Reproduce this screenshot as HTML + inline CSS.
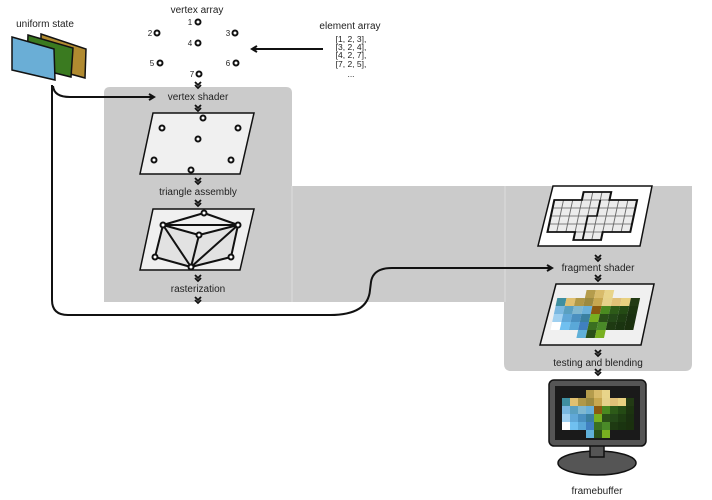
<!DOCTYPE html>
<html><head><meta charset="utf-8"><style>
html,body{margin:0;padding:0;background:#fff;}
svg{display:block;font-family:"Liberation Sans",sans-serif;}
text{font-size:10px;fill:#222;text-anchor:middle;}
</style></head><body>
<svg width="712" height="500" viewBox="0 0 712 500" xmlns="http://www.w3.org/2000/svg">
<defs>
<pattern id="gp" width="8" height="8" patternUnits="userSpaceOnUse">
<rect width="8" height="8" fill="#ececec" stroke="#666" stroke-width="0.8"/>
</pattern>
<marker id="ar" markerWidth="8" markerHeight="8" refX="6" refY="4" orient="auto" markerUnits="userSpaceOnUse">
<path d="M1,1 L6,4 L1,7" fill="none" stroke="#111" stroke-width="2"/>
</marker>
<g id="dn"><path d="M-3,-3 L0,0 L3,-3 M-3,0 L0,3 L3,0" fill="none" stroke="#111" stroke-width="1.8"/></g>
<g id="cg">
<rect x="24" y="0" width="8" height="8" fill="#b59c4c"/><rect x="32" y="0" width="8" height="8" fill="#d8bb6a"/><rect x="40" y="0" width="8" height="8" fill="#e8d48a"/>
<rect x="0" y="8" width="8" height="8" fill="#3f8fa0"/><rect x="8" y="8" width="8" height="8" fill="#e0c070"/><rect x="16" y="8" width="8" height="8" fill="#b09848"/><rect x="24" y="8" width="8" height="8" fill="#9c8a40"/><rect x="32" y="8" width="8" height="8" fill="#c8a850"/><rect x="40" y="8" width="8" height="8" fill="#e6d28a"/><rect x="48" y="8" width="8" height="8" fill="#e0c078"/><rect x="56" y="8" width="8" height="8" fill="#e8d080"/><rect x="64" y="8" width="8" height="8" fill="#223a14"/>
<rect x="0" y="16" width="8" height="8" fill="#7ab8e0"/><rect x="8" y="16" width="8" height="8" fill="#5aa0c0"/><rect x="16" y="16" width="8" height="8" fill="#80b8d0"/><rect x="24" y="16" width="8" height="8" fill="#6ab0d8"/><rect x="32" y="16" width="8" height="8" fill="#8a5a10"/><rect x="40" y="16" width="8" height="8" fill="#4a8a20"/><rect x="48" y="16" width="8" height="8" fill="#2d5a18"/><rect x="56" y="16" width="8" height="8" fill="#244a14"/><rect x="64" y="16" width="8" height="8" fill="#1c3410"/>
<rect x="0" y="24" width="8" height="8" fill="#a0d0f0"/><rect x="8" y="24" width="8" height="8" fill="#60a8d8"/><rect x="16" y="24" width="8" height="8" fill="#4a90c0"/><rect x="24" y="24" width="8" height="8" fill="#3a80a0"/><rect x="32" y="24" width="8" height="8" fill="#78b020"/><rect x="40" y="24" width="8" height="8" fill="#2a5018"/><rect x="48" y="24" width="8" height="8" fill="#244818"/><rect x="56" y="24" width="8" height="8" fill="#1e3c12"/><rect x="64" y="24" width="8" height="8" fill="#1a3010"/>
<rect x="0" y="32" width="8" height="8" fill="#ffffff"/><rect x="8" y="32" width="8" height="8" fill="#70c0f0"/><rect x="16" y="32" width="8" height="8" fill="#5aa8d8"/><rect x="24" y="32" width="8" height="8" fill="#4080c0"/><rect x="32" y="32" width="8" height="8" fill="#3a7020"/><rect x="40" y="32" width="8" height="8" fill="#4a8a28"/><rect x="48" y="32" width="8" height="8" fill="#1e3a12"/><rect x="56" y="32" width="8" height="8" fill="#1a3410"/><rect x="64" y="32" width="8" height="8" fill="#1a300e"/>
<rect x="24" y="40" width="8" height="8" fill="#60b0d8"/><rect x="32" y="40" width="8" height="8" fill="#2a5018"/><rect x="40" y="40" width="8" height="8" fill="#78b020"/>
</g>
</defs>

<path d="M104,302 L104,93 Q104,87 110,87 L286,87 Q292,87 292,93 L292,302 Z" fill="#cbcbcb"/>
<rect x="292" y="186" width="213" height="116" fill="#cbcbcb"/>
<path d="M504,186 L692,186 L692,364 Q692,371 685,371 L511,371 Q504,371 504,364 Z" fill="#cbcbcb"/>
<line x1="292" y1="186" x2="292" y2="302" stroke="#ddd" stroke-width="1"/>
<line x1="505" y1="186" x2="505" y2="302" stroke="#ddd" stroke-width="1"/>

<text x="45" y="27">uniform state</text>
<polygon points="41,34 86,49 85,78 41,66" fill="#b08a30" stroke="#111" stroke-width="1.5"/>
<polygon points="28,35 73,48 71,77 27,66" fill="#3a7a20" stroke="#111" stroke-width="1.5"/>
<polygon points="12,37 54,49 55,80 12,70" fill="#6aaed6" stroke="#111" stroke-width="1.5"/>

<text x="197" y="13">vertex array</text>
<g fill="#fff" stroke="#111" stroke-width="2">
<circle cx="198" cy="22" r="2.5"/><circle cx="157" cy="33" r="2.5"/><circle cx="235" cy="33" r="2.5"/>
<circle cx="198" cy="43" r="2.5"/><circle cx="160" cy="63" r="2.5"/><circle cx="236" cy="63" r="2.5"/><circle cx="199" cy="74" r="2.5"/>
</g>
<text x="190" y="25" style="font-size:8px">1</text><text x="150" y="36" style="font-size:8px">2</text><text x="228" y="36" style="font-size:8px">3</text>
<text x="190" y="46" style="font-size:8px">4</text><text x="152" y="66" style="font-size:8px">5</text><text x="228" y="66" style="font-size:8px">6</text><text x="192" y="77" style="font-size:8px">7</text>

<text x="350" y="29">element array</text>
<text x="351" y="42" style="font-size:8.5px">[1, 2, 3],</text>
<text x="351" y="50" style="font-size:8.5px">[3, 2, 4],</text>
<text x="351" y="58" style="font-size:8.5px">[4, 2, 7],</text>
<text x="351" y="67" style="font-size:8.5px">[7, 2, 5],</text>
<text x="351" y="77" style="font-size:8.5px">...</text>
<line x1="323" y1="49" x2="252" y2="49" stroke="#111" stroke-width="2" marker-end="url(#ar)"/>

<path d="M52,85 L52,300 Q52,315 68,315 L330,315 Q368,315 370,290 L371,282 Q373,268 392,268 L552,268" fill="none" stroke="#111" stroke-width="2" marker-end="url(#ar)"/>
<path d="M53,86 Q54,97 70,97 L154,97" fill="none" stroke="#111" stroke-width="2" marker-end="url(#ar)"/>

<use href="#dn" x="198" y="85"/>
<text x="198" y="100">vertex shader</text>
<use href="#dn" x="198" y="108"/>
<polygon points="153,113 254,113 240,174 140,174" fill="#f0f0f0" stroke="#111" stroke-width="1.5"/>
<g fill="#fff" stroke="#111" stroke-width="2">
<circle cx="203" cy="118" r="2.5"/><circle cx="162" cy="128" r="2.5"/><circle cx="238" cy="128" r="2.5"/><circle cx="198" cy="139" r="2.5"/><circle cx="154" cy="160" r="2.5"/><circle cx="231" cy="160" r="2.5"/><circle cx="191" cy="170" r="2.5"/>
</g>
<use href="#dn" x="198" y="181"/>
<text x="198" y="195">triangle assembly</text>
<use href="#dn" x="198" y="203"/>
<polygon points="153,209 254,209 240,270 140,270" fill="#f0f0f0" stroke="#111" stroke-width="1.5"/>
<polygon points="163,225 199,235 238,225 231,257 191,267 155,257" fill="#e2e2e2"/>
<g stroke="#111" stroke-width="2" fill="none">
<path d="M204,213 L163,225 M204,213 L238,225 M163,225 L238,225 M163,225 L199,235 M199,235 L238,225 M163,225 L155,257 M155,257 L191,267 M163,225 L191,267 M199,235 L191,267 M238,225 L191,267 M238,225 L231,257 M231,257 L191,267"/>
</g>
<g fill="#fff" stroke="#111" stroke-width="2">
<circle cx="204" cy="213" r="2.5"/><circle cx="163" cy="225" r="2.5"/><circle cx="238" cy="225" r="2.5"/><circle cx="199" cy="235" r="2.5"/><circle cx="155" cy="257" r="2.5"/><circle cx="231" cy="257" r="2.5"/><circle cx="191" cy="267" r="2.5"/>
</g>
<use href="#dn" x="198" y="278"/>
<text x="198" y="292">rasterization</text>
<use href="#dn" x="198" y="300"/>

<polygon points="553,186 652,186 640,246 538,246" fill="#fff" stroke="#111" stroke-width="1.5"/>
<g transform="translate(556,192) skewX(-12) scale(1.15,1.0)">
<polygon points="24,0 48,0 48,8 72,8 72,40 48,40 48,48 24,48 24,40 0,40 0,8 24,8" fill="url(#gp)" stroke="#111" stroke-width="1.8"/>
<path d="M40,8 L40,24 L32,24 L32,48" fill="none" stroke="#111" stroke-width="1.6"/>
</g>
<use href="#dn" x="598" y="258"/>
<text x="598" y="271">fragment shader</text>
<use href="#dn" x="598" y="278"/>
<polygon points="556,284 654,284 641,345 540,345" fill="#f0f0f0" stroke="#111" stroke-width="1.5"/>
<g transform="translate(559,290) skewX(-12) scale(1.15,1.0)"><use href="#cg"/></g>
<use href="#dn" x="598" y="353"/>
<text x="598" y="366">testing and blending</text>
<use href="#dn" x="598" y="372"/>

<ellipse cx="597" cy="463" rx="39" ry="12" fill="#555" stroke="#111" stroke-width="1.5"/>
<rect x="590" y="445" width="14" height="12" fill="#555" stroke="#111" stroke-width="1.5"/>
<rect x="549" y="380" width="97" height="66" rx="5" fill="#555" stroke="#111" stroke-width="1.5"/>
<rect x="555" y="386" width="85" height="54" fill="#1a1a1a"/>
<g transform="translate(562,390)"><use href="#cg"/></g>
<text x="597" y="494">framebuffer</text>
</svg>
</body></html>
